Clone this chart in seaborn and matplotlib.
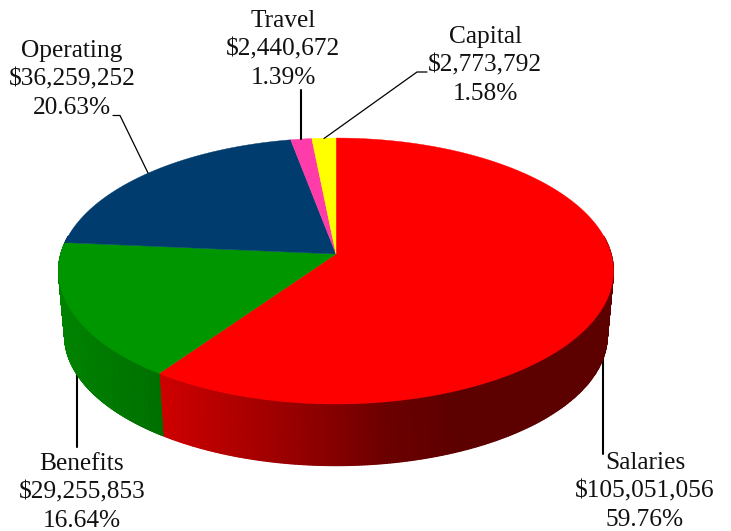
import numpy as np
import matplotlib
matplotlib.use("Agg")
import matplotlib.pyplot as plt
import seaborn as sns

categories = ["Salaries", "Benefits", "Operating", "Travel", "Capital"]
values = [105051056, 29255853, 36259252, 2440672, 2773792]
percents = ["59.76%", "16.64%", "20.63%", "1.39%", "1.58%"]
top_colors = ["#ff0000", "#009600", "#003c6e", "#ff3caa", "#ffff00"]
wall_ramps = [["#d00000", "#b00000", "#900000", "#6c0000", "#5c0000", "#5c0000", "#5c0000"],
              ["#008400", "#007000"],
              ["#003060", "#002850"],
              ["#c02080", "#a01870"],
              ["#c0c000", "#a0a000"]]

sns.set_theme(style="white")
plt.rcParams["font.family"] = ["Liberation Serif", "DejaVu Serif"]

fig, ax = plt.subplots(figsize=(7.31, 5.31), dpi=100)
ax.set_position([0, 0, 1, 1])
ax.set_xlim(0, 731)
ax.set_ylim(531, 0)
ax.axis("off")

CX, CY, RX, RY, K = 336.0, 254.0, 275.2, 130.8, 0.128
DEPTH, SHRINK = 65.0, 0.978


def project(theta, scale=1.0, dy=0.0):
    x, y = np.cos(theta), np.sin(theta)
    d = 1 + K * y
    return CX + scale * RX * x / d, CY + dy - scale * RY * y / d


fractions = np.array(values, dtype=float) / np.sum(values)
edges = np.pi / 2 - 2 * np.pi * np.concatenate([[0], np.cumsum(fractions)])

# side walls: only the part of each slice that faces the viewer
for i in range(len(values)):
    th = np.linspace(edges[i], edges[i + 1], 400)
    th = th[np.sin(th) < 0.14]
    if th.size < 2:
        continue
    ux, uy = project(th)
    lx, ly = project(th, SHRINK, DEPTH)
    X = np.vstack([ux, lx])
    Y = np.vstack([uy, ly])
    cmap = sns.blend_palette(wall_ramps[i], 256, as_cmap=True)
    ax.pcolormesh(X, Y, X, cmap=cmap, shading="gouraud", zorder=2,
                  vmin=X.min(), vmax=X.max())

# top face
for i in range(len(values)):
    th = np.linspace(edges[i], edges[i + 1], 200)
    px, py = project(th)
    ax.fill(np.r_[CX, px], np.r_[CY, py], color=top_colors[i], lw=0.3, zorder=3)

# leader lines
ax.plot([113, 120, 148], [115.5, 115.5, 173], color="black", lw=0.9, zorder=4)
ax.plot([301, 301], [90, 139], color="black", lw=1.5, zorder=4)
ax.plot([427, 417, 324], [72, 72, 138.5], color="black", lw=0.9, zorder=4)
ax.plot([77, 77], [371, 447], color="black", lw=1.5, zorder=1)
ax.plot([603, 603], [352, 454], color="black", lw=1.5, zorder=1)

label_x = [645, 82, 72, 283, 485]
label_y = [469, 470, 57, 27, 43]
for i, name in enumerate(categories):
    lines = [name, f"${values[i]:,}", percents[i]]
    for n, line in enumerate(lines):
        ax.text(label_x[i], label_y[i] + n * 28.7, line, ha="center", va="baseline",
                fontsize=18.3, color="#111111", zorder=5)

fig.savefig("out.png", dpi=100, facecolor="white")
